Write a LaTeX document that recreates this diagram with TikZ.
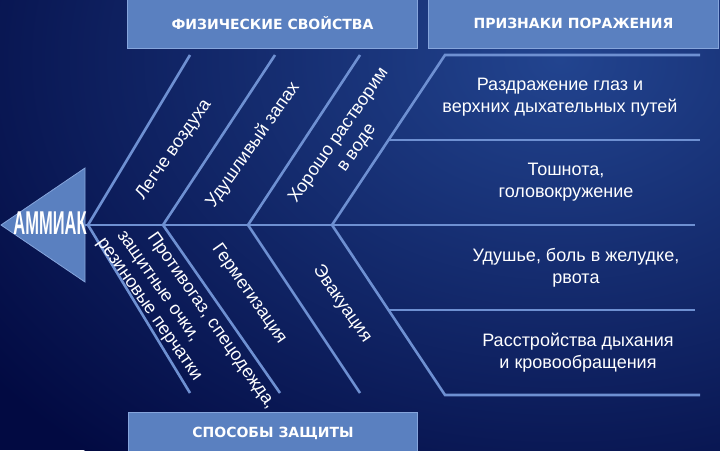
\documentclass[tikz,border=0pt]{standalone}
\usepackage{graphicx}
\usepackage{fontspec}
\setmainfont{Liberation Sans}
\newfontfamily\headfont{DejaVu Sans}

\definecolor{bgdark}{HTML}{020A42}
\definecolor{bglight}{HTML}{22448F}
\definecolor{bonecol}{HTML}{6E90D2}
\definecolor{boxfill}{HTML}{5A80C0}
\definecolor{boxedge}{HTML}{86A5DC}

\tikzset{
  bone/.style={draw=bonecol, line width=2.6pt},
  header/.style={fill=boxfill, draw=boxedge, line width=1pt, inner sep=0pt,
    font=\headfont\bfseries\fontsize{14}{17}\selectfont, text=white},
  cause/.style={text=white, font=\fontsize{18}{22}\selectfont, align=center, inner sep=0pt},
}

\begin{document}
\begin{tikzpicture}[x=1pt,y=-1pt]
    \useasboundingbox (0,0) rectangle (720,450);
    \begin{scope}
        \clip (0,0) rectangle (720,450);
        \fill[bgdark] (0,0) rectangle (720,450);
        \shade[inner color=bglight, outer color=bgdark] (560,60) ellipse (720pt and 520pt);
    \end{scope}

    % header boxes
    \node[header, anchor=north west, minimum width=290pt, minimum height=51pt] (phys) at (127,-3) {ФИЗИЧЕСКИЕ СВОЙСТВА};
    \node[header, anchor=north west, minimum width=290pt, minimum height=51pt] (signs) at (428,-3) {ПРИЗНАКИ ПОРАЖЕНИЯ};
    \node[header, anchor=north west, minimum width=289pt, minimum height=41pt] (defence) at (128,412) {СПОСОБЫ ЗАЩИТЫ};

    % head
    \filldraw[fill=boxfill, draw=boxedge, line width=0.8pt] (85,168) -- (85,282) -- (1,225) -- cycle;
    \node[text=white, inner sep=0pt] (ammonia) at (50,223)
        {\scalebox{0.5}[1]{\bfseries\fontsize{33}{33}\selectfont АММИАК}};

    % bones
    \coordinate (head) at (85,225);
    \coordinate (j1) at (88,225);  \coordinate (a1) at (190,55);  \coordinate (c1) at (190,393);
    \coordinate (j2) at (163,225); \coordinate (a2) at (275,55);  \coordinate (c2) at (280,393);
    \coordinate (j3) at (248,225); \coordinate (a3) at (360,55);  \coordinate (c3) at (360,393);
    \coordinate (j4) at (332,225); \coordinate (a4) at (445,55);  \coordinate (c4) at (445,395);
    \coordinate (k1) at (388.5,140); \coordinate (k2) at (388.5,310);
    \coordinate (r0) at (700,55);  \coordinate (r1) at (700,140); \coordinate (r2) at (695,225);
    \coordinate (r3) at (695,310); \coordinate (r4) at (700,395);
    \path[bone] (head) -- (r2);
    \path[bone] (j1) -- (a1);
    \path[bone] (j2) -- (a2);
    \path[bone] (j3) -- (a3);
    \path[bone] (j4) -- (a4) -- (r0);
    \path[bone] (k1) -- (r1);
    \path[bone] (j1) -- (c1);
    \path[bone] (j2) -- (c2);
    \path[bone] (j3) -- (c3);
    \path[bone] (j4) -- (c4) -- (r4);
    \path[bone] (k2) -- (r3);

    % physical properties
    \node[cause, rotate=55] (air) at (174,150) {Легче воздуха};
    \node[cause, rotate=55] (smell) at (253,145) {Удушливый запах};
    \node[cause, rotate=55] (water) at (348,142) {Хорошо растворим\\в воде};

    % ways of protection
    \node[cause, rotate=-55] (mask) at (211,321) {Противогаз, спецодежда,};
    \node[cause, rotate=-55] (goggles) at (157,287) {защитные очки,};
    \node[cause, rotate=-55] (gloves) at (148,310) {резиновые перчатки};
    \node[cause, rotate=-55] (seal) at (249,294) {Герметизация};
    \node[cause, rotate=-55] (evac) at (342,304) {Эвакуация};

    % signs
    \node[cause] (irrit) at (560,97) {Раздражение глаз и\\верхних дыхательных путей};
    \node[cause] (nausea) at (566,182) {Тошнота,\\головокружение};
    \node[cause] (choke) at (576,268) {Удушье, боль в желудке,\\рвота};
    \node[cause] (breath) at (578,353) {Расстройства дыхания\\и кровообращения};
\end{tikzpicture}
\end{document}
